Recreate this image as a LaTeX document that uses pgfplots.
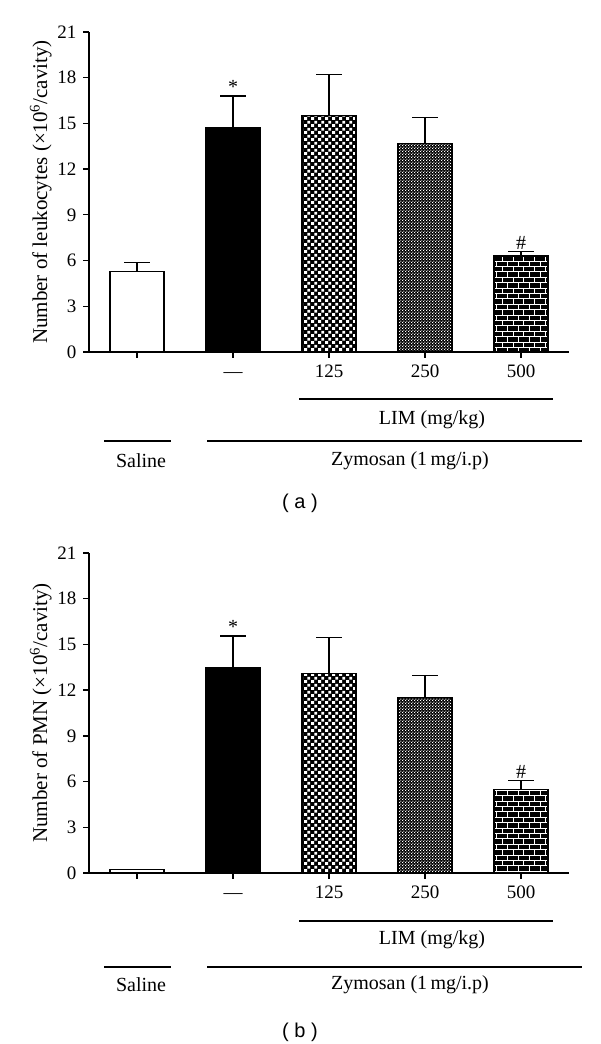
\documentclass[border=0pt]{standalone}
\usepackage{fontspec}
\setmainfont{Liberation Serif}
\newfontfamily\sansf{Liberation Sans}
\usepackage{pgfplots}
\pgfplotsset{compat=1.18}
\usetikzlibrary{patterns}

% white squares on black (checker)
\pgfdeclarepatternformonly{checkbigW}{\pgfqpoint{0pt}{0pt}}{\pgfqpoint{6.6pt}{6.6pt}}{\pgfqpoint{6.6pt}{6.6pt}}{%
  \pgfpathrectangle{\pgfqpoint{0.15pt}{0.15pt}}{\pgfqpoint{3.0pt}{3.0pt}}%
  \pgfpathrectangle{\pgfqpoint{3.45pt}{3.45pt}}{\pgfqpoint{3.0pt}{3.0pt}}%
  \pgfusepath{fill}}
\pgfdeclarepatternformonly{checksmallW}{\pgfqpoint{0pt}{0pt}}{\pgfqpoint{3.2pt}{3.2pt}}{\pgfqpoint{3.2pt}{3.2pt}}{%
  \pgfpathrectangle{\pgfqpoint{0.15pt}{0.15pt}}{\pgfqpoint{1.3pt}{1.3pt}}%
  \pgfpathrectangle{\pgfqpoint{1.75pt}{1.75pt}}{\pgfqpoint{1.3pt}{1.3pt}}%
  \pgfusepath{fill}}
\pgfdeclarepatternformonly{bricksW}{\pgfqpoint{-1pt}{-1pt}}{\pgfqpoint{11.8pt}{11.8pt}}{\pgfqpoint{10.8pt}{10.8pt}}{%
  \pgfsetlinewidth{0.8pt}%
  \pgfpathmoveto{\pgfqpoint{0pt}{0pt}}\pgfpathlineto{\pgfqpoint{10.8pt}{0pt}}%
  \pgfpathmoveto{\pgfqpoint{0pt}{5.4pt}}\pgfpathlineto{\pgfqpoint{10.8pt}{5.4pt}}%
  \pgfpathmoveto{\pgfqpoint{0pt}{0pt}}\pgfpathlineto{\pgfqpoint{0pt}{5.4pt}}%
  \pgfpathmoveto{\pgfqpoint{5.4pt}{5.4pt}}\pgfpathlineto{\pgfqpoint{5.4pt}{10.8pt}}%
  \pgfusepath{stroke}}

\newcommand{\fs}{\fontsize{20}{24}\selectfont}
\newcommand{\fst}{\fontsize{19}{23}\selectfont}
\newcommand{\fsl}{\fontsize{21}{25}\selectfont}

\pgfplotsset{
  mychart/.style={
    scale only axis,
    width=480pt, height=320pt,
    anchor=south west,
    xmin=-0.5, xmax=4.5,
    ymin=0, ymax=21,
    ytick={0,3,...,21},
    xtick={0,1,2,3,4},
    xticklabels={,{\vphantom{1}—},125,250,500},
    axis x line*=bottom, axis y line*=left,
    axis line style={-, line width=1.3pt},
    tick style={line width=1.3pt, black},
    tick align=outside,
    major tick length=6pt,
    x tick label style={yshift=-3pt},
    y tick label style={xshift=-3pt},
    tick label style={font=\fst},
    label style={font=\fsl},
    /pgf/number format/assume math mode=true,
    ylabel style={yshift=-1pt},
    clip=false,
  },
  mybar/.style={
    ybar, bar width=54pt, bar shift=0pt, draw=black, line width=1.3pt,
    error bars/y dir=plus, error bars/y explicit,
    error bars/error mark=|,
    error bars/error bar style={line width=1.3pt, black},
    error bars/error mark options={line width=1.3pt, mark size=13pt, black},
  },
}

\begin{document}
\begin{tikzpicture}[font=\fs]
\useasboundingbox (0pt,0pt) rectangle (600pt,1044pt);

% ---------- (a) ----------
\begin{axis}[mychart, at={(89pt,692pt)},
  ylabel={Number of leukocytes (×10\textsuperscript{6}/cavity)}]
\addplot[mybar, fill=white] coordinates {(0,5.3) +- (0,0.55)};
\addplot[mybar, fill=black] coordinates {(1,14.75) +- (0,2.05)};
\addplot[mybar, fill=black, postaction={pattern=checkbigW, pattern color=white}] coordinates {(2,15.5) +- (0,2.7)};
\addplot[mybar, fill=black, postaction={pattern=checksmallW, pattern color=white}] coordinates {(3,13.7) +- (0,1.7)};
\addplot[mybar, fill=black, postaction={pattern=bricksW, pattern color=white}] coordinates {(4,6.3) +- (0,0.3)};
\node[anchor=south, inner sep=2pt] at (axis cs:1,16.8) {*};
\node[anchor=south, inner sep=2pt] at (axis cs:4,6.6) {\#};
\end{axis}

\draw[line width=1.3pt] (299pt,645pt) -- (553pt,645pt);
\node at (432pt,624pt) {LIM (mg/kg)};
\draw[line width=1.3pt] (104pt,603pt) -- (171pt,603pt);
\draw[line width=1.3pt] (207pt,603pt) -- (582pt,603pt);
\node at (141pt,583pt) {Saline};
\node at (410pt,583pt) {Zymosan (1\,mg/i.p)};
\node[font=\sansf\fontsize{20}{24}\selectfont] at (300pt,541pt) {( a )};

% ---------- (b) ----------
\begin{axis}[mychart, at={(89pt,171pt)},
  ylabel={Number of PMN (×10\textsuperscript{6}/cavity)}]
\addplot[mybar, fill=white] coordinates {(0,0.25)};
\addplot[mybar, fill=black] coordinates {(1,13.5) +- (0,2.05)};
\addplot[mybar, fill=black, postaction={pattern=checkbigW, pattern color=white}] coordinates {(2,13.1) +- (0,2.35)};
\addplot[mybar, fill=black, postaction={pattern=checksmallW, pattern color=white}] coordinates {(3,11.5) +- (0,1.45)};
\addplot[mybar, fill=black, postaction={pattern=bricksW, pattern color=white}] coordinates {(4,5.5) +- (0,0.55)};
\node[anchor=south, inner sep=2pt] at (axis cs:1,15.55) {*};
\node[anchor=south, inner sep=2pt] at (axis cs:4,6.05) {\#};
\end{axis}

\draw[line width=1.3pt] (299pt,123pt) -- (553pt,123pt);
\node at (432pt,104pt) {LIM (mg/kg)};
\draw[line width=1.3pt] (104pt,77pt) -- (171pt,77pt);
\draw[line width=1.3pt] (207pt,77pt) -- (582pt,77pt);
\node at (141pt,59pt) {Saline};
\node at (410pt,59pt) {Zymosan (1\,mg/i.p)};
\node[font=\sansf\fontsize{20}{24}\selectfont] at (300pt,12pt) {( b )};
\end{tikzpicture}
\end{document}
